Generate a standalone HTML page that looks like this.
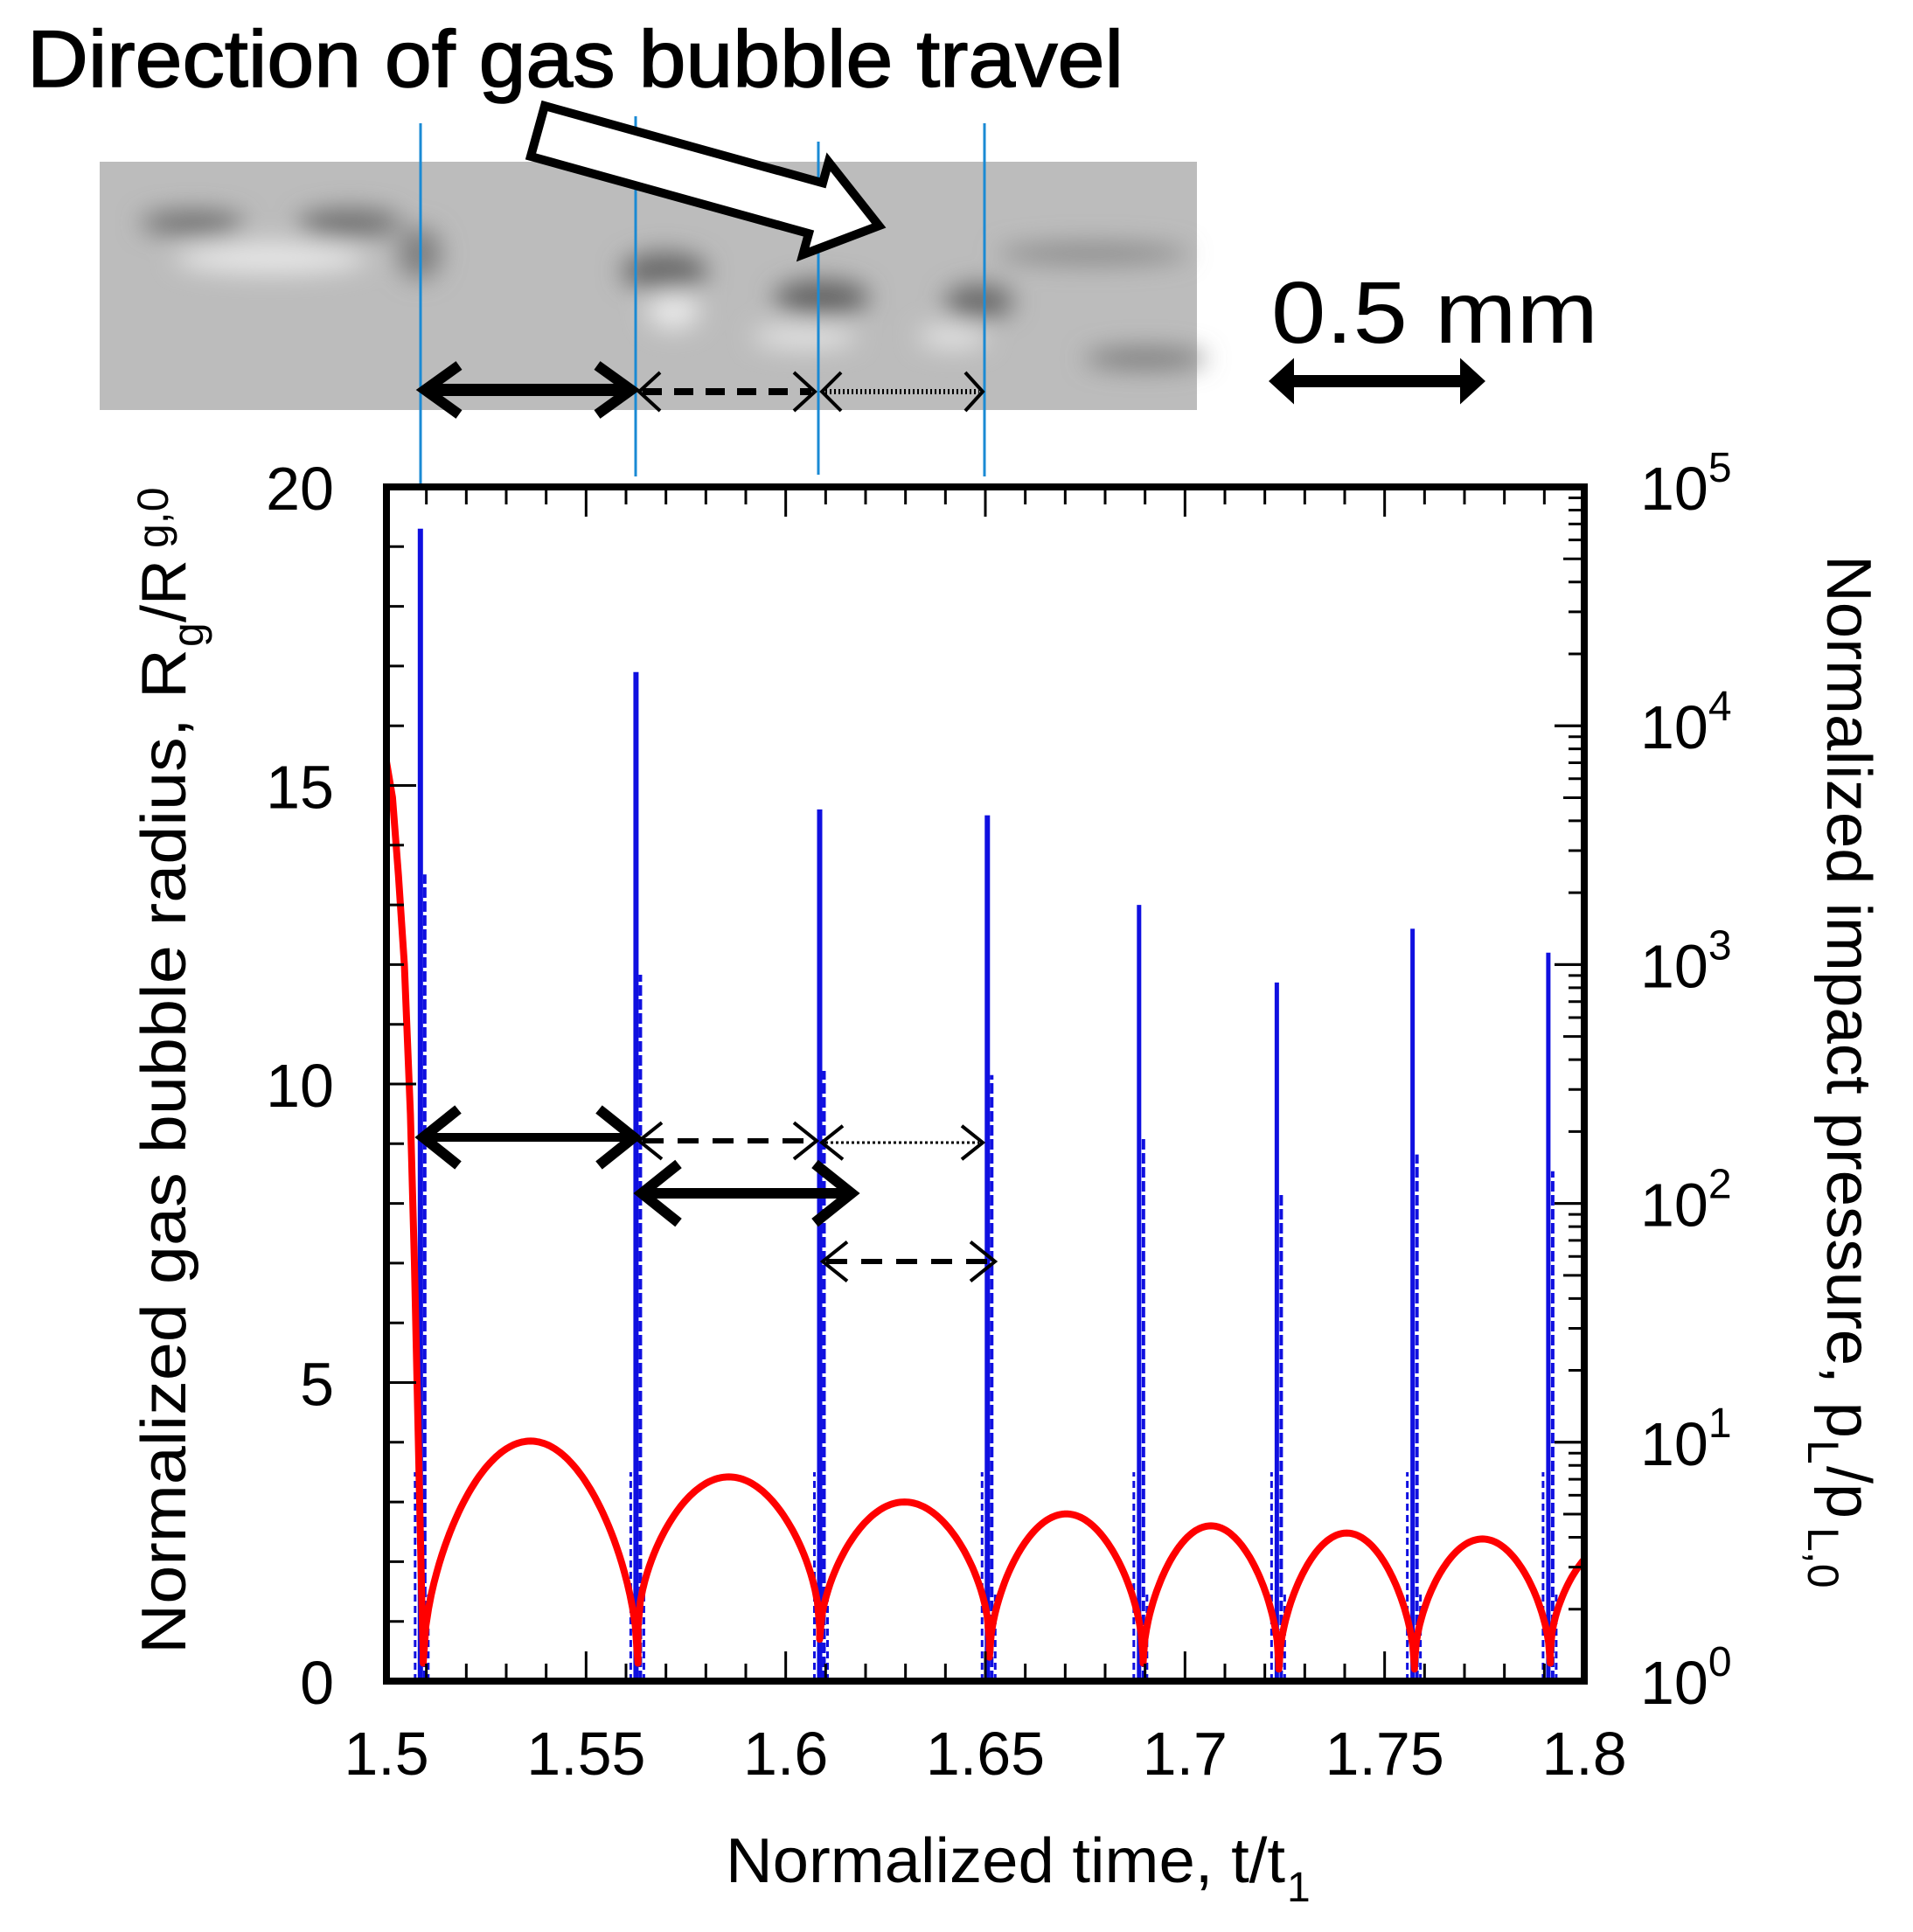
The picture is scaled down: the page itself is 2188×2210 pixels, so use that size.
<!DOCTYPE html>
<html><head><meta charset="utf-8"><style>
html,body{margin:0;padding:0;background:#fff;}
svg{display:block;}
text{font-family:"Liberation Sans",sans-serif;}
</style></head><body>
<svg id="s" width="2188" height="2210" viewBox="0 0 2188 2210" xmlns="http://www.w3.org/2000/svg">
<defs>
<filter id="bl" x="-50%" y="-50%" width="200%" height="200%"><feGaussianBlur stdDeviation="14"/></filter>
</defs>
<!-- photo -->
<rect x="114" y="185" width="1255" height="284" fill="#bcbcbc"/>
<g filter="url(#bl)">
<ellipse cx="220" cy="255" rx="60" ry="14" fill="#6e6e6e"/>
<ellipse cx="400" cy="255" rx="60" ry="16" fill="#6e6e6e"/>
<ellipse cx="480" cy="290" rx="25" ry="30" fill="#808080"/>
<ellipse cx="310" cy="295" rx="110" ry="18" fill="#e6e6e6"/>
<ellipse cx="760" cy="310" rx="50" ry="22" fill="#6a6a6a"/>
<ellipse cx="770" cy="355" rx="30" ry="22" fill="#e8e8e8"/>
<ellipse cx="940" cy="340" rx="55" ry="20" fill="#646464"/>
<ellipse cx="1120" cy="345" rx="40" ry="20" fill="#6a6a6a"/>
<ellipse cx="920" cy="385" rx="60" ry="14" fill="#e2e2e2"/>
<ellipse cx="1090" cy="385" rx="40" ry="14" fill="#e2e2e2"/>
<ellipse cx="1250" cy="290" rx="110" ry="12" fill="#8a8a8a"/>
<ellipse cx="1310" cy="410" rx="70" ry="12" fill="#7a7a7a"/>
</g>
<text x="31" y="99" font-size="92" textLength="1254" lengthAdjust="spacingAndGlyphs" fill="#000" stroke="#000" stroke-width="1.5">Direction of gas bubble travel</text>
<!-- blue guides -->
<g stroke="#1a8ad4" stroke-width="3">
<line x1="481" y1="141" x2="481" y2="553"/><line x1="727" y1="133" x2="727" y2="545"/>
<line x1="936" y1="162" x2="936" y2="543"/><line x1="1126" y1="141" x2="1126" y2="545"/>
</g>
<!-- white arrow -->
<polygon transform="translate(615,150) rotate(15.5)" points="0,-30 330,-30 330,-55 405,0 330,55 330,30 0,30" fill="#fff" stroke="#000" stroke-width="10" stroke-linejoin="miter"/>
<!-- photo arrows -->
<g fill="none" stroke="#000">
<line x1="490" y1="446" x2="718" y2="446" stroke-width="14"/>
<path d="M525,418 L486,446 L525,474 M683,418 L722,446 L683,474" stroke-width="12"/>
<line x1="735" y1="448" x2="928" y2="448" stroke-width="8" stroke-dasharray="22,14"/>
<path d="M755,426 L731,448 L755,470 M908,426 L932,448 L908,470" stroke-width="4"/>
<line x1="944" y1="448" x2="1120" y2="448" stroke-width="6" stroke-dasharray="2,3"/>
<path d="M962,426 L940,448 L962,470 M1104,426 L1124,448 L1104,470" stroke-width="4"/>
<line x1="1462" y1="436" x2="1688" y2="436" stroke-width="14"/>
<path d="M1478,414 L1454,436 L1478,458 Z M1672,414 L1696,436 L1672,458 Z" fill="#000" stroke-width="4"/>
</g>
<text x="1454" y="392" font-size="100" textLength="374" lengthAdjust="spacingAndGlyphs" fill="#000">0.5 mm</text>
<g id="plot"></g>
<!-- axis labels -->
<text x="830" y="2153" font-size="72" textLength="640" lengthAdjust="spacingAndGlyphs" fill="#000">Normalized time, t/t</text>
<text x="1472" y="2175" font-size="48" fill="#000">1</text>
<g transform="translate(212,1892) rotate(-90)">
<text x="0" y="0" font-size="72" textLength="1150" lengthAdjust="spacingAndGlyphs" fill="#000">Normalized gas bubble radius, R</text>
<text x="1152" y="20" font-size="50" fill="#000">g</text>
<text x="1180" y="0" font-size="72" fill="#000">/R</text>
<text x="1265" y="-20" font-size="50" fill="#000">g,0</text>
</g>
<g transform="translate(2090,635) rotate(90)">
<text x="0" y="0" font-size="72" textLength="1010" lengthAdjust="spacingAndGlyphs" fill="#000">Normalized impact pressure, p</text>
<text x="1012" y="22" font-size="50" fill="#000">L</text>
<text x="1042" y="0" font-size="72" fill="#000">/p</text>
<text x="1112" y="22" font-size="50" fill="#000">L,0</text>
</g>
</svg>
<script>
var NS="http://www.w3.org/2000/svg",g=document.getElementById("plot");
var L=442,R=1812,T=557,B=1923;
function X(t){return L+(t-1.5)/0.3*(R-L);}
function Y(v){return B-v/20*(B-T);}
function el(n,a,p){var e=document.createElementNS(NS,n);for(var k in a)e.setAttribute(k,a[k]);(p||g).appendChild(e);return e;}
function ln(x1,y1,x2,y2,a){a=a||{};a.x1=x1;a.y1=y1;a.x2=x2;a.y2=y2;if(!a.stroke)a.stroke="#000";return el("line",a);}
function tx(x,y,s,a){a=a||{};a.x=x;a.y=y;var e=el("text",a);e.textContent=s;return e;}
var pts=[[1.5,15.4],[1.5015,14.8],[1.503,13.5],[1.5045,12],[1.506,9.5],[1.507,7],[1.508,4],[1.5088,1.5],[1.5092,0.5]];
var d="M"+pts.map(function(p){return X(p[0]).toFixed(1)+","+Y(p[1]).toFixed(1)}).join(" L");
var segs=[[1.5092,1.563,4.02,0.3],[1.563,1.6085,3.42,0.9],[1.6085,1.651,3.0,0.7],[1.651,1.6895,2.8,0.4],[1.6895,1.7235,2.6,0.3],[1.7235,1.7575,2.48,0.2],[1.7575,1.7915,2.38,0.3],[1.7915,1.825,2.35,0.5]];
segs.forEach(function(s){for(var i=0;i<=80;i++){var u=i/80,t=s[0]+(s[1]-s[0])*u;if(t>1.8)break;var v=s[3]+(s[2]-s[3])*Math.pow(Math.sin(Math.PI*u),0.55);d+=" L"+X(t).toFixed(1)+","+Y(v).toFixed(1);}});
var sp=[[1.5085,19.3],[1.5625,16.9],[1.6085,14.6],[1.6505,14.5],[1.6885,13.0],[1.723,11.7],[1.757,12.6],[1.791,12.2]];
sp.forEach(function(s,i){var x=X(s[0]);
 ln(x,B,x,Y(s[1]),{stroke:"#1010e0","stroke-width":i<4?6:5});
 ln(x+5,B,x+5,Y(s[1]*0.7),{stroke:"#1010e0","stroke-width":4,"stroke-dasharray":"12,4"});
 ln(x-6,B,x-6,Y(3.5),{stroke:"#1010e0","stroke-width":3,"stroke-dasharray":"8,5"});
 ln(x+9,B,x+9,Y(1.5),{stroke:"#1010e0","stroke-width":3,"stroke-dasharray":"8,5"});
});
el("path",{d:d,fill:"none",stroke:"#f00","stroke-width":8,"stroke-linejoin":"round"});
for(var k=0;k<=30;k++){var x=X(1.5+k*0.01),big=k%5==0,len=big?34:20;ln(x,T,x,T+len,{"stroke-width":3});ln(x,B,x,B-len,{"stroke-width":3});}
for(var v=0;v<=20;v++){var y=Y(v),big=v%5==0;ln(L,y,L+(big?34:20),y,{"stroke-width":3});}
var dec=(B-T)/5;
for(var dd=0;dd<5;dd++)for(var m=1;m<=10;m++){var y=B-dd*dec-Math.log10(m)*dec;var len=(m==1||m==10)?34:(m==5?24:18);if(dd==4&&m==10)continue;ln(R,y,R-len,y,{"stroke-width":3});}
el("rect",{x:L,y:T,width:R-L,height:B-T,fill:"none",stroke:"#000","stroke-width":8});
["0","5","10","15","20"].forEach(function(s,i){tx(382,Y(i*5)+26,s,{"font-size":70,"text-anchor":"end",fill:"#000"});});
["1.5","1.55","1.6","1.65","1.7","1.75","1.8"].forEach(function(s,i){tx(X(1.5+i*0.05),2030,s,{"font-size":70,"text-anchor":"middle",fill:"#000"});});
for(var e=0;e<=5;e++){var t=tx(1876,B-e*dec+26,"10",{"font-size":70,fill:"#000"});var ts=el("tspan",{"font-size":48,dy:-32},t);ts.textContent=e;}
function arr(x1,x2,y,w,dash,head){ln(x1+4,y,x2-4,y,{"stroke-width":w,"stroke-dasharray":dash||"none"});
 el("path",{d:"M"+(x1+head)+","+(y-head*0.8)+" L"+x1+","+y+" L"+(x1+head)+","+(y+head*0.8)+" M"+(x2-head)+","+(y-head*0.8)+" L"+x2+","+y+" L"+(x2-head)+","+(y+head*0.8),fill:"none",stroke:"#000","stroke-width":w>8?12:4});}
arr(484,725,1301,10,null,40);
arr(731,934,1305,6,"24,16",26);
arr(940,1124,1307,3,"3,3",24);
arr(734,974,1365,12,null,42);
arr(941,1138,1443,6,"24,16",28);
</script>
</body></html>
